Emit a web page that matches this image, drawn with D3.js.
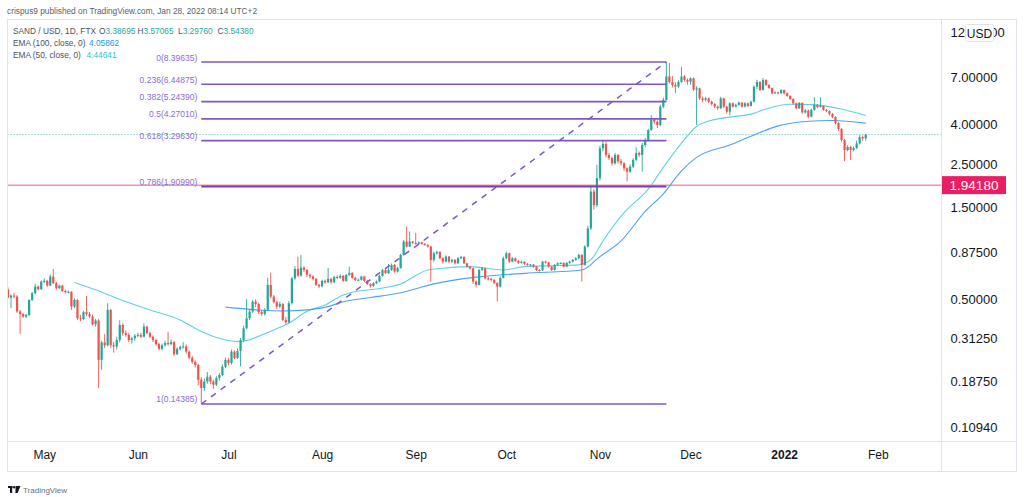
<!DOCTYPE html>
<html>
<head>
<meta charset="utf-8">
<script src="https://cdn.jsdelivr.net/npm/d3@7"></script>
<style>
  html, body { margin: 0; padding: 0; background: #fff; }
  svg { display: block; font-family: "Liberation Sans", Arial, sans-serif; }
</style>
</head>
<body>
<div id="chart"></div>
<script>
// SAND / USD daily candles, FTX
const startDay = '2021-04-19'
const firstOpen = 0.560
const closes = [
  0.510, 0.522, 0.516, 0.432, 0.419, 0.407, 0.415, 0.496, 0.537, 0.581,
  0.563, 0.617, 0.622, 0.588, 0.655, 0.605, 0.570, 0.588, 0.552, 0.544,
  0.546, 0.458, 0.496, 0.399, 0.395, 0.429, 0.419, 0.407, 0.371, 0.388,
  0.243, 0.299, 0.289, 0.440, 0.289, 0.285, 0.308, 0.368, 0.334, 0.327,
  0.308, 0.314, 0.324, 0.327, 0.320, 0.361, 0.334, 0.320, 0.308, 0.293,
  0.277, 0.289, 0.297, 0.293, 0.300, 0.260, 0.277, 0.283, 0.285, 0.268,
  0.249, 0.237, 0.229, 0.192, 0.174, 0.188, 0.199, 0.188, 0.181, 0.196,
  0.203, 0.224, 0.243, 0.234, 0.268, 0.249, 0.270, 0.308, 0.354, 0.399,
  0.432, 0.486, 0.472, 0.429, 0.419, 0.440, 0.593, 0.516, 0.483, 0.458,
  0.472, 0.391, 0.380, 0.477, 0.641, 0.717, 0.662, 0.728, 0.708, 0.668,
  0.655, 0.637, 0.593, 0.583, 0.622, 0.611, 0.637, 0.612, 0.652, 0.645,
  0.660, 0.622, 0.668, 0.684, 0.645, 0.629, 0.630, 0.655, 0.622, 0.600,
  0.586, 0.605, 0.617, 0.660, 0.708, 0.682, 0.708, 0.752, 0.694, 0.724,
  0.847, 0.993, 0.935, 0.993, 0.977, 0.965, 0.983, 0.965, 0.954, 0.935,
  0.798, 0.864, 0.877, 0.814, 0.782, 0.830, 0.782, 0.798, 0.767, 0.814,
  0.827, 0.767, 0.737, 0.722, 0.617, 0.593, 0.708, 0.722, 0.641, 0.637,
  0.629, 0.607, 0.581, 0.645, 0.814, 0.864, 0.782, 0.814, 0.788, 0.770,
  0.779, 0.761, 0.752, 0.755, 0.737, 0.708, 0.705, 0.782, 0.775, 0.737,
  0.708, 0.752, 0.767, 0.770, 0.737, 0.770, 0.782, 0.798, 0.814, 0.847,
  0.752, 0.935, 1.16, 1.80, 1.53, 2.11, 3.01, 3.17, 2.78, 2.68,
  2.52, 2.78, 2.58, 2.52, 2.37, 2.28, 2.42, 2.62, 2.84, 2.78,
  3.13, 3.32, 3.74, 4.22, 4.13, 3.97, 4.94, 5.35, 7.07, 6.61,
  6.38, 6.27, 6.63, 7.07, 6.78, 6.65, 6.92, 6.05, 6.14, 5.45,
  5.35, 5.45, 5.24, 5.10, 4.94, 4.85, 5.45, 4.94, 4.65, 5.14,
  4.94, 5.04, 5.18, 4.94, 5.14, 4.98, 5.24, 6.26, 6.62, 6.02,
  6.78, 6.39, 6.17, 5.79, 5.85, 5.79, 6.02, 5.79, 5.61, 5.41,
  5.14, 4.85, 5.16, 4.61, 4.72, 4.38, 4.75, 5.04, 4.92, 4.98,
  4.75, 4.69, 4.53, 4.37, 4.07, 3.79, 3.32, 2.95, 3.06, 2.95,
  3.02, 3.19, 3.44, 3.38695, 3.54380
]
const highs = [
  0.575, 0.530, 0.540, 0.525, 0.440, 0.425, 0.420, 0.500, 0.545, 0.600,
  0.590, 0.625, 0.640, 0.630, 0.670, 0.716, 0.615, 0.595, 0.595, 0.560,
  0.555, 0.550, 0.505, 0.500, 0.415, 0.435, 0.520, 0.430, 0.415, 0.395,
  0.395, 0.305, 0.330, 0.477, 0.445, 0.300, 0.320, 0.390, 0.375, 0.345,
  0.335, 0.320, 0.330, 0.335, 0.335, 0.375, 0.365, 0.340, 0.325, 0.312,
  0.298, 0.295, 0.305, 0.340, 0.310, 0.305, 0.282, 0.288, 0.300, 0.292,
  0.272, 0.255, 0.242, 0.232, 0.198, 0.195, 0.210, 0.203, 0.192, 0.200,
  0.208, 0.230, 0.250, 0.248, 0.275, 0.272, 0.278, 0.315, 0.365, 0.500,
  0.445, 0.495, 0.500, 0.480, 0.440, 0.450, 0.645, 0.687, 0.525, 0.490,
  0.485, 0.478, 0.405, 0.490, 0.650, 0.740, 0.830, 0.847, 0.740, 0.715,
  0.680, 0.665, 0.645, 0.600, 0.630, 0.632, 0.725, 0.645, 0.660, 0.665,
  0.672, 0.668, 0.675, 0.737, 0.690, 0.655, 0.640, 0.662, 0.660, 0.630,
  0.605, 0.612, 0.625, 0.668, 0.716, 0.725, 0.760, 0.765, 0.760, 0.735,
  0.860, 1.010, 1.185, 1.120, 1.000, 1.100, 0.995, 0.990, 0.975, 0.962,
  0.945, 0.880, 0.890, 0.885, 0.822, 0.842, 0.836, 0.810, 0.805, 0.825,
  0.838, 0.833, 0.772, 0.745, 0.728, 0.625, 0.718, 0.735, 0.728, 0.652,
  0.645, 0.635, 0.612, 0.655, 0.830, 0.880, 0.870, 0.825, 0.820, 0.795,
  0.790, 0.785, 0.768, 0.762, 0.760, 0.742, 0.715, 0.790, 0.792, 0.780,
  0.742, 0.760, 0.775, 0.778, 0.775, 0.778, 0.790, 0.806, 0.825, 0.860,
  0.855, 0.950, 1.20, 1.90, 1.85, 2.47, 3.10, 3.32, 3.25, 2.85,
  2.72, 2.85, 2.82, 2.65, 2.55, 2.40, 2.48, 2.68, 3.05, 2.90,
  3.20, 3.40, 3.80, 4.47, 4.30, 4.20, 5.05, 5.50, 8.39635, 8.30,
  7.10, 6.60, 6.75, 7.91, 7.20, 6.90, 7.00, 6.98, 6.30, 6.20,
  5.55, 5.55, 5.50, 5.30, 5.15, 5.00, 5.55, 5.50, 5.00, 5.20,
  5.20, 5.12, 5.25, 5.22, 5.20, 5.18, 5.30, 6.35, 6.80, 6.70,
  6.95, 6.85, 6.45, 6.20, 5.92, 5.90, 6.08, 6.05, 5.85, 5.65,
  5.45, 5.18, 5.22, 5.20, 4.80, 4.76, 4.82, 5.53, 5.10, 5.53,
  5.02, 4.80, 4.72, 4.58, 4.40, 4.10, 3.82, 3.36, 3.12, 3.10,
  3.08, 3.30, 3.52, 3.50, 3.57065
]
const lows = [
  0.505, 0.450, 0.505, 0.425, 0.331, 0.400, 0.400, 0.410, 0.490, 0.530,
  0.555, 0.560, 0.605, 0.580, 0.585, 0.600, 0.560, 0.565, 0.545, 0.535,
  0.535, 0.440, 0.450, 0.390, 0.385, 0.390, 0.410, 0.400, 0.365, 0.360,
  0.174, 0.216, 0.280, 0.285, 0.280, 0.265, 0.275, 0.300, 0.325, 0.320,
  0.300, 0.295, 0.305, 0.318, 0.315, 0.318, 0.330, 0.315, 0.300, 0.288,
  0.272, 0.272, 0.285, 0.288, 0.290, 0.255, 0.258, 0.272, 0.278, 0.262,
  0.244, 0.232, 0.222, 0.180, 0.14385, 0.168, 0.183, 0.182, 0.172, 0.178,
  0.190, 0.200, 0.220, 0.228, 0.230, 0.245, 0.246, 0.225, 0.300, 0.350,
  0.390, 0.425, 0.455, 0.420, 0.410, 0.412, 0.435, 0.505, 0.475, 0.445,
  0.450, 0.385, 0.370, 0.375, 0.470, 0.630, 0.650, 0.655, 0.690, 0.650,
  0.640, 0.625, 0.585, 0.570, 0.575, 0.600, 0.605, 0.600, 0.605, 0.635,
  0.638, 0.615, 0.615, 0.660, 0.638, 0.620, 0.620, 0.625, 0.612, 0.592,
  0.575, 0.580, 0.598, 0.612, 0.655, 0.675, 0.676, 0.700, 0.685, 0.688,
  0.720, 0.840, 0.925, 0.930, 0.965, 0.955, 0.955, 0.955, 0.945, 0.925,
  0.617, 0.780, 0.850, 0.805, 0.765, 0.775, 0.772, 0.770, 0.755, 0.760,
  0.805, 0.760, 0.728, 0.710, 0.600, 0.575, 0.588, 0.700, 0.632, 0.625,
  0.618, 0.598, 0.487, 0.575, 0.640, 0.805, 0.770, 0.775, 0.780, 0.760,
  0.765, 0.752, 0.745, 0.742, 0.728, 0.700, 0.695, 0.700, 0.765, 0.728,
  0.700, 0.702, 0.745, 0.758, 0.730, 0.732, 0.762, 0.775, 0.790, 0.805,
  0.617, 0.745, 0.925, 1.14, 1.45, 1.50, 2.05, 2.90, 2.70, 2.62,
  2.45, 2.48, 2.52, 2.46, 2.30, 2.03, 2.25, 2.38, 2.58, 2.72,
  2.28, 3.05, 3.28, 3.70, 4.02, 3.83, 3.92, 4.85, 5.30, 6.50,
  6.20, 5.81, 6.15, 6.55, 6.65, 6.40, 6.40, 5.95, 3.97, 5.35,
  5.20, 5.25, 5.15, 5.00, 4.85, 4.75, 4.80, 4.85, 4.55, 4.45,
  4.88, 4.90, 5.00, 4.88, 4.90, 4.92, 4.95, 5.20, 6.10, 5.95,
  5.98, 6.30, 6.10, 5.72, 5.75, 5.72, 5.75, 5.72, 5.55, 5.35,
  5.05, 4.78, 4.80, 4.55, 4.55, 4.30, 4.35, 4.70, 4.85, 4.88,
  4.70, 4.62, 4.45, 4.30, 4.00, 3.70, 3.25, 2.58, 2.90, 2.62,
  2.90, 2.98, 3.15, 3.30, 3.29760
]

// EMA lines, read at sample days (day number counted from startDay)
const ema50Day = [22, 29, 36, 47, 57, 63, 70, 76, 79, 84, 88, 93, 99, 105, 111, 115, 122, 130, 139, 146,
  153, 164, 171, 180, 189, 193, 197, 204, 212, 217, 223, 228, 233, 239, 246, 251, 259, 266, 275, 284]
const ema50 = [0.610, 0.559, 0.506, 0.440, 0.391, 0.347, 0.314, 0.302, 0.306, 0.327, 0.347, 0.376, 0.433,
  0.467, 0.526, 0.547, 0.565, 0.600, 0.708, 0.728, 0.737, 0.708, 0.737, 0.745, 0.752, 0.800, 1.00, 1.40,
  1.85, 2.40, 3.20, 3.90, 4.20, 4.36, 4.52, 4.80, 5.08, 5.06, 4.83, 4.44641]
const ema100Day = [72, 83, 91, 100, 106, 111, 120, 130, 141, 155, 171, 190, 196, 203, 211, 217, 223, 228,
  239, 246, 255, 264, 273, 284]
const ema100 = [0.455, 0.440, 0.435, 0.442, 0.458, 0.485, 0.510, 0.540, 0.600, 0.650, 0.680, 0.708, 0.830,
  1.00, 1.42, 1.75, 2.30, 2.70, 3.13, 3.47, 3.93, 4.14, 4.19, 4.05862]

// fibonacci retracement drawn between the Jun low and the Nov high
const fibRatios = ['0', '0.236', '0.382', '0.5', '0.618', '0.786', '1']
const fibPrices = [8.39635, 6.44875, 5.24390, 4.27010, 3.29630, 1.90990, 0.14385]
const fibFrom = '2021-06-22'
const fibTo = '2021-11-23'

const hLinePrice = 1.94180
const priceTicks = [12, 7, 4, 2.5, 1.5, 0.875, 0.5, 0.3125, 0.1875, 0.1094]
const monthTicks = ['2021-05-01', '2021-06-01', '2021-07-01', '2021-08-01', '2021-09-01',
  '2021-10-01', '2021-11-01', '2021-12-01', '2022-01-01', '2022-02-01']

const W = 1024, H = 497
const frame = { left: 7.5, top: 19.5, right: 1016.5, bottom: 471.5 }
const plotRight = 941.5, plotBottom = 441.5
const upColor = '#26a69a', downColor = '#ef5350'
const fibColor = '#7e57c2'
const smallFont = 8.3

const parseDay = d3.utcParse('%Y-%m-%d')
const day0 = parseDay(startDay)

const candles = closes.map((c, i) => ({
  date: d3.utcDay.offset(day0, i),
  open: i === 0 ? firstOpen : closes[i - 1],
  high: highs[i],
  low: lows[i],
  close: c,
}))

const x = d3.scaleUtc()
  .domain([day0, d3.utcDay.offset(day0, closes.length - 1)])
  .range([8, 865.7])

const y = d3.scaleLog()
  .domain([priceTicks[0], priceTicks[priceTicks.length - 1]])
  .range([32, 427])

const svg = d3.select('#chart')
  .append('svg')
  .attr('width', W)
  .attr('height', H)

svg.append('rect').attr('width', W).attr('height', H).attr('fill', '#fff')

// header
svg.append('text')
  .attr('x', 7).attr('y', 13.5)
  .attr('font-size', smallFont).attr('fill', '#5d606b')
  .text('crispus9 published on TradingView.com, Jan 28, 2022 08:14 UTC+2')

// frame
const frameG = svg.append('g').attr('stroke', '#e0e3eb').attr('fill', 'none')
frameG.append('rect')
  .attr('x', frame.left).attr('y', frame.top)
  .attr('width', frame.right - frame.left).attr('height', frame.bottom - frame.top)
frameG.append('line').attr('x1', plotRight).attr('x2', plotRight).attr('y1', frame.top).attr('y2', frame.bottom)
frameG.append('line').attr('x1', frame.left).attr('x2', frame.right).attr('y1', plotBottom).attr('y2', plotBottom)

svg.append('clipPath').attr('id', 'plot-clip')
  .append('rect')
  .attr('x', frame.left + 0.5).attr('y', frame.top + 0.5)
  .attr('width', plotRight - frame.left - 1).attr('height', plotBottom - frame.top - 1)

const plot = svg.append('g').attr('clip-path', 'url(#plot-clip)')

// horizontal price line + last price dotted line
plot.append('line')
  .attr('x1', frame.left).attr('x2', plotRight)
  .attr('y1', y(hLinePrice)).attr('y2', y(hLinePrice))
  .attr('stroke', '#f48fb1').attr('stroke-width', 1.5)

const last = candles[candles.length - 1]
plot.append('line')
  .attr('x1', frame.left).attr('x2', plotRight)
  .attr('y1', y(last.close)).attr('y2', y(last.close))
  .attr('stroke', upColor).attr('stroke-width', 1)
  .attr('stroke-dasharray', '1,2').attr('opacity', 0.8)

// EMA lines
function drawEma(days, values, color) {
  const pts = days.map((d, i) => [x(d3.utcDay.offset(day0, d)), y(values[i])])
  plot.append('path')
    .attr('d', d3.line().curve(d3.curveMonotoneX)(pts))
    .attr('fill', 'none')
    .attr('stroke', color)
    .attr('stroke-width', 1.1)
}
drawEma(ema50Day, ema50, '#5fd0e4')
drawEma(ema100Day, ema100, '#4ea3f1')

// candles
const candleG = plot.append('g')
  .selectAll('g')
  .data(candles)
  .join('g')
  .attr('fill', d => d.close >= d.open ? upColor : downColor)
  .attr('stroke', d => d.close >= d.open ? upColor : downColor)

candleG.append('line')
  .attr('x1', d => x(d.date)).attr('x2', d => x(d.date))
  .attr('y1', d => y(d.high)).attr('y2', d => y(d.low))
  .attr('stroke-width', 0.9)

candleG.append('rect')
  .attr('x', d => x(d.date) - 1.1)
  .attr('width', 2.2)
  .attr('y', d => y(Math.max(d.open, d.close)))
  .attr('height', d => Math.max(1, y(Math.min(d.open, d.close)) - y(Math.max(d.open, d.close))))
  .attr('stroke', 'none')

// fibonacci drawing
const fx0 = x(parseDay(fibFrom)), fx1 = x(parseDay(fibTo))
const fibG = svg.append('g')
fibG.append('line')
  .attr('x1', fx0).attr('y1', y(fibPrices[fibPrices.length - 1]))
  .attr('x2', fx1).attr('y2', y(fibPrices[0]))
  .attr('stroke', fibColor).attr('stroke-width', 1.5)
  .attr('stroke-dasharray', '6,6')

fibPrices.forEach((p, i) => {
  fibG.append('line')
    .attr('x1', fx0).attr('x2', fx1)
    .attr('y1', y(p)).attr('y2', y(p))
    .attr('stroke', i === 5 ? '#7b3fb0' : fibColor)
    .attr('stroke-width', i === 5 ? 2 : 1.6)
  fibG.append('text')
    .attr('x', fx0 - 4).attr('y', y(p) - 1.5)
    .attr('text-anchor', 'end')
    .attr('font-size', 8.5)
    .attr('fill', '#8c6bd6')
    .text(`${fibRatios[i]}(${p.toFixed(5)})`)
})

// legend
const legend = svg.append('g').attr('font-size', smallFont).attr('fill', '#4c525e')
legend.append('text').attr('x', 13).attr('y', 33.5).text('SAND / USD, 1D, FTX')
const ohlc = [['O', last.open, 99], ['H', last.high, 137.5], ['L', last.low, 178], ['C', last.close, 217.5]]
ohlc.forEach(([k, v, lx]) => {
  const t = legend.append('text').attr('x', lx).attr('y', 33.5)
  t.append('tspan').text(k)
  t.append('tspan').attr('fill', upColor).text(v.toFixed(5))
})
legend.append('text').attr('x', 13).attr('y', 45.5).text('EMA (100, close, 0)')
legend.append('text').attr('x', 89).attr('y', 45.5).attr('fill', '#2196f3')
  .text(ema100[ema100.length - 1].toFixed(5))
legend.append('text').attr('x', 13).attr('y', 57.5).text('EMA (50, close, 0)')
legend.append('text').attr('x', 86.5).attr('y', 57.5).attr('fill', '#26c6da')
  .text(ema50[ema50.length - 1].toFixed(5))

// price axis
const yAxis = svg.append('g')
  .attr('transform', `translate(${plotRight + 9},0)`)
  .call(d3.axisRight(y).tickValues(priceTicks).tickSize(0).tickPadding(0).tickFormat(d => d.toFixed(5)))
yAxis.select('.domain').remove()
yAxis.selectAll('text')
  .attr('font-size', 13).attr('font-family', '"Liberation Sans", Arial, sans-serif')
  .attr('fill', '#131722')

// highlighted price label
svg.append('rect')
  .attr('x', plotRight + 0.5).attr('y', y(hLinePrice) - 9)
  .attr('width', 64).attr('height', 18)
  .attr('fill', '#e91e63')
svg.append('text')
  .attr('x', plotRight + 32.5).attr('y', y(hLinePrice) + 5)
  .attr('text-anchor', 'middle')
  .attr('font-size', 13.5).attr('fill', '#fff')
  .text(hLinePrice.toFixed(5))

// currency badge over the top tick
svg.append('rect')
  .attr('x', 965.5).attr('y', 24.5).attr('width', 28).attr('height', 17).attr('rx', 2)
  .attr('fill', '#fff').attr('stroke', '#e0e3eb')
svg.append('text')
  .attr('x', 979.5).attr('y', 37.5).attr('text-anchor', 'middle')
  .attr('font-size', 12).attr('fill', '#131722').text('USD')

// time axis
const xAxis = svg.append('g')
  .attr('transform', `translate(0,${plotBottom + 9})`)
  .call(d3.axisBottom(x)
    .tickValues(monthTicks.map(parseDay))
    .tickSize(0).tickPadding(0)
    .tickFormat(d => d.getUTCMonth() === 0 ? d3.utcFormat('%Y')(d) : d3.utcFormat('%b')(d)))
xAxis.select('.domain').remove()
xAxis.selectAll('text')
  .attr('dy', '0.35em').attr('y', 4)
  .attr('font-size', 12).attr('font-family', '"Liberation Sans", Arial, sans-serif')
  .attr('fill', '#131722')
  .attr('font-weight', d => d.getUTCMonth() === 0 ? 'bold' : null)

// TradingView mark
const mark = svg.append('g').attr('fill', '#131722')
mark.append('rect').attr('x', 8).attr('y', 486).attr('width', 4.5).attr('height', 2)
mark.append('rect').attr('x', 10).attr('y', 486).attr('width', 2.2).attr('height', 7)
mark.append('circle').attr('cx', 14.2).attr('cy', 487.2).attr('r', 1.2)
mark.append('path').attr('d', 'M15.8,486 L20.5,486 L17.6,493 L15.3,493 Z')
svg.append('text')
  .attr('x', 23).attr('y', 492.5)
  .attr('font-size', 8).attr('fill', '#6a6d78')
  .text('TradingView')
</script>
</body>
</html>
